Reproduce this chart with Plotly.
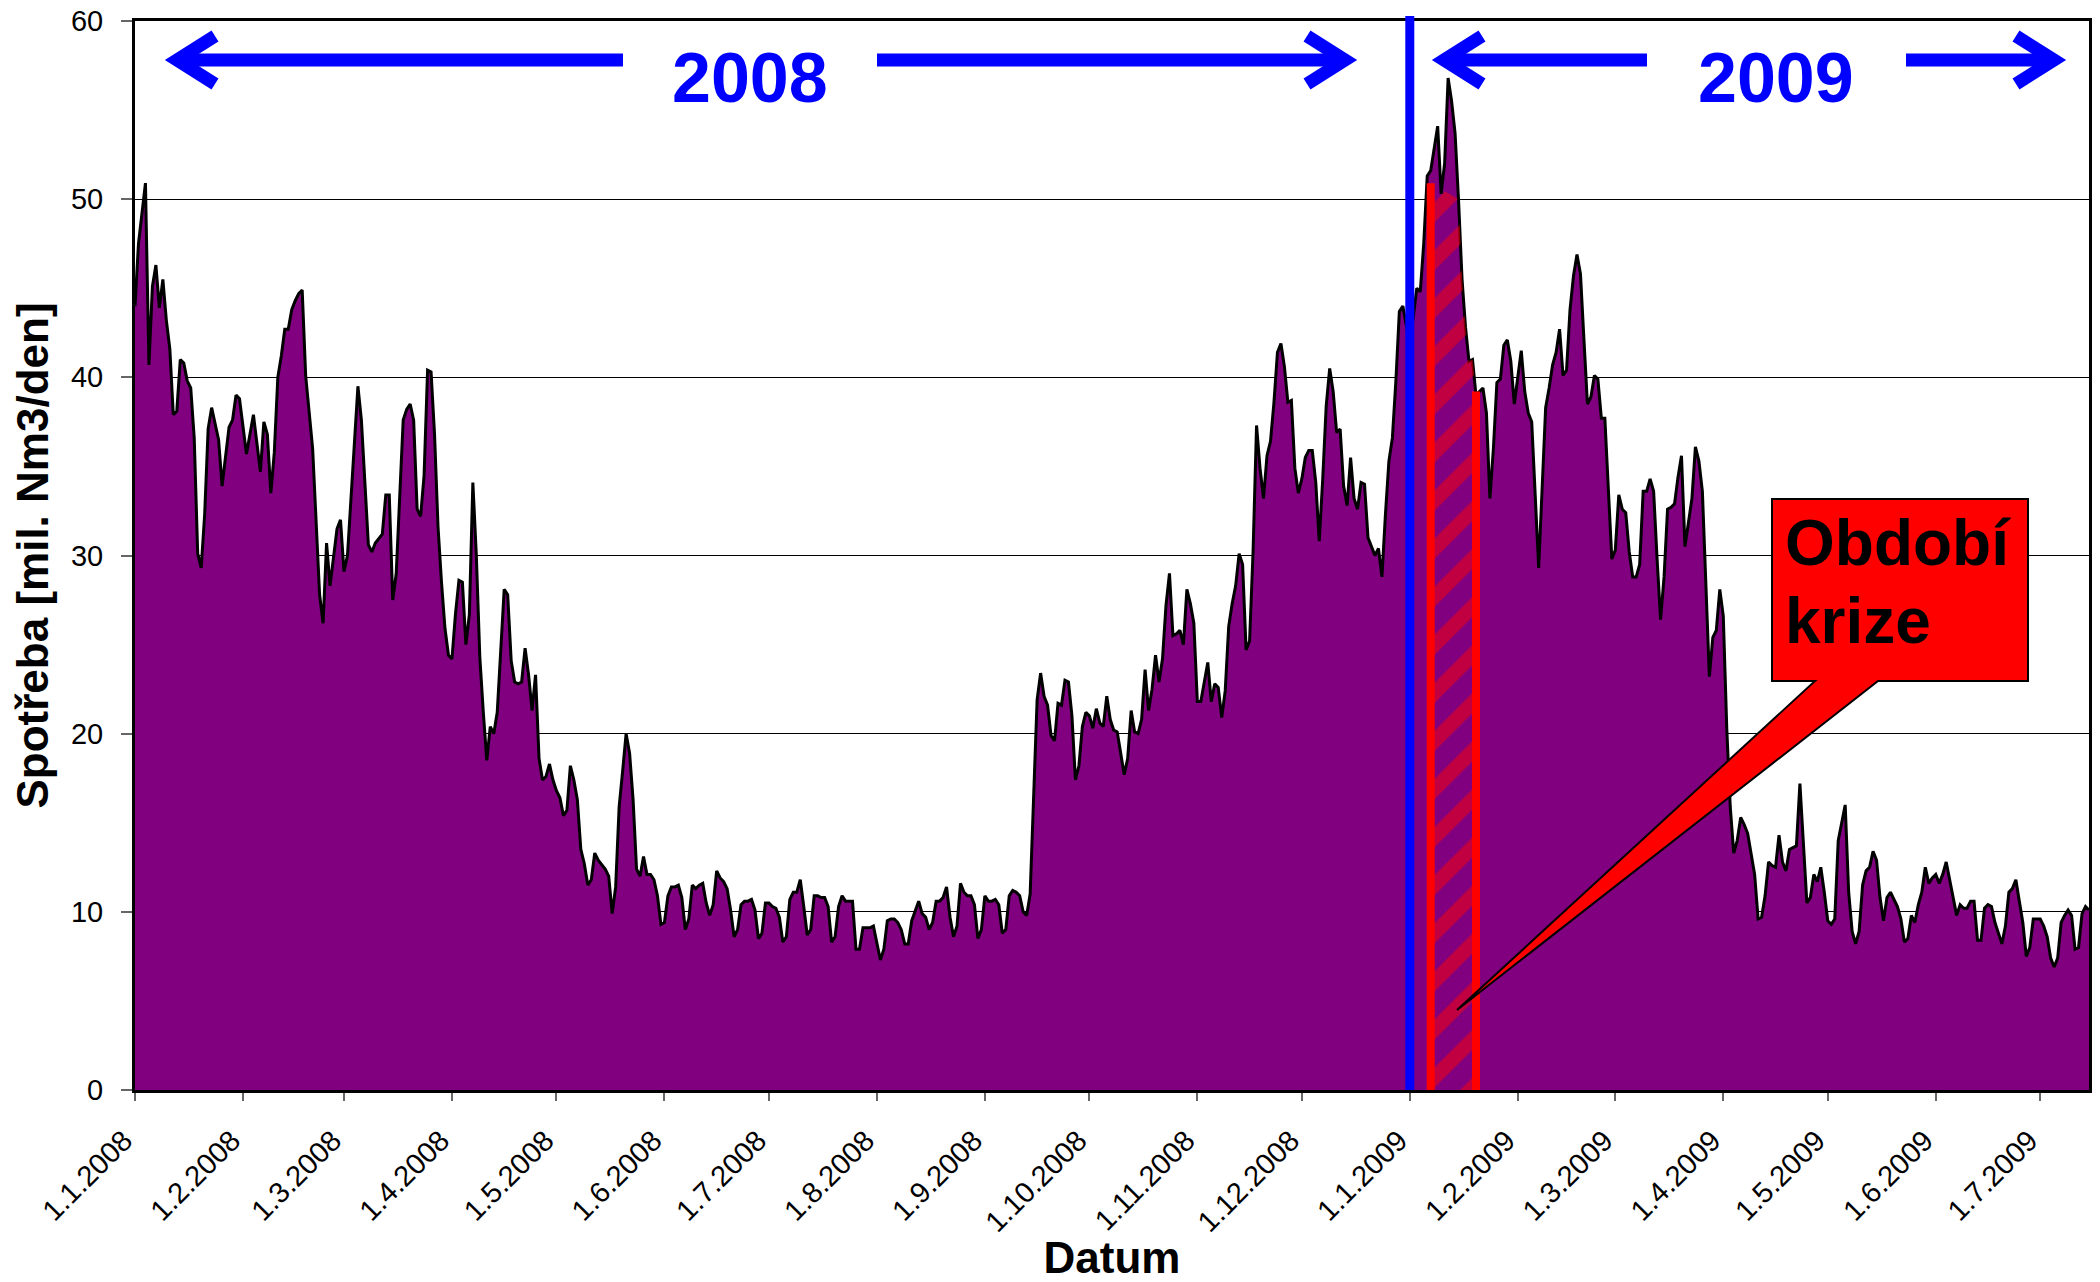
import pandas as pd
import plotly.graph_objects as go

# ---------------- data ----------------
START = "2008-01-01"          # day offsets below are counted from this date
X_RANGE = ["2008-01-01", "2009-07-15"]

DAYS_2008 = [
    0, 1, 3, 4, 5, 6, 7, 8, 9, 10,
    11, 12, 13, 14, 15, 16, 17, 18, 19, 20,
    21, 22, 24, 25, 27, 28, 29, 30, 32, 34,
    36, 37, 38, 39, 40, 41, 42, 43, 44, 45,
    46, 47, 48, 49, 51, 53, 54, 55, 56, 58,
    59, 60, 61, 62, 63, 64, 65, 66, 67, 68,
    69, 71, 72, 73, 74, 75, 76, 77, 78, 79,
    80, 81, 82, 83, 84, 85, 86, 87, 88, 89,
    90, 91, 92, 93, 94, 95, 96, 97, 98, 99,
    100, 101, 102, 103, 104, 105, 106, 107, 108, 109,
    110, 111, 112, 113, 114, 115, 116, 117, 118, 119,
    120, 121, 122, 123, 124, 125, 126, 127, 128, 129,
    130, 131, 132, 133, 135, 136, 137, 138, 139, 140,
    141, 142, 143, 144, 145, 146, 147, 148, 149, 150,
    151, 152, 153, 154, 155, 156, 157, 158, 159, 160,
    161, 162, 163, 164, 165, 166, 167, 168, 169, 170,
    171, 172, 173, 174, 175, 176, 177, 178, 179, 180,
    181, 182, 183, 184, 185, 186, 187, 188, 189, 190,
    191, 192, 193, 194, 195, 196, 197, 198, 199, 200,
    201, 202, 203, 204, 205, 206, 207, 208, 209, 210,
    211, 212, 213, 214, 215, 216, 217, 218, 219, 220,
    221, 222, 223, 224, 225, 226, 227, 228, 229, 230,
    231, 232, 233, 234, 235, 236, 237, 238, 239, 240,
    241, 242, 243, 244, 245, 246, 247, 248, 249, 250,
    251, 252, 253, 254, 255, 256, 257, 259, 260, 261,
    262, 263, 264, 265, 266, 267, 268, 269, 270, 271,
    272, 273, 274, 275, 276, 277, 278, 279, 280, 281,
    282, 283, 284, 285, 286, 287, 288, 289, 290, 291,
    292, 293, 294, 295, 296, 297, 298, 299, 300, 301,
    302, 303, 304, 305, 306, 307, 308, 309, 310, 311,
    312, 313, 314, 315, 316, 317, 318, 319, 320, 321,
    322, 323, 324, 325, 326, 327, 328, 329, 330, 331,
    332, 333, 334, 335, 336, 337, 338, 339, 340, 341,
    342, 343, 344, 345, 346, 347, 348, 349, 350, 351,
    352, 353, 354, 355, 356, 357, 358, 359, 360, 361,
    362, 363, 364,
]
VALUES_2008 = [
    44.0, 47.5, 50.9, 40.7, 45.1, 46.3, 43.9, 45.5, 43.2, 41.6,
    37.9, 38.1, 41.0, 40.8, 39.8, 39.4, 36.6, 30.1, 29.3, 32.3,
    37.1, 38.3, 36.5, 33.9, 37.2, 37.6, 39.0, 38.8, 35.7, 37.9,
    34.7, 37.5, 36.8, 33.5, 35.8, 40.0, 41.2, 42.7, 42.7, 43.8,
    44.3, 44.7, 44.9, 40.1, 36.0, 27.8, 26.2, 30.7, 28.3, 31.5,
    32.0, 29.1, 30.0, 33.0, 35.9, 39.5, 37.6, 34.1, 30.6, 30.2,
    30.7, 31.2, 33.4, 33.4, 27.5, 29.0, 33.0, 37.6, 38.2, 38.5,
    37.6, 32.6, 32.2, 34.5, 40.4, 40.3, 36.8, 31.6, 28.5, 25.9,
    24.4, 24.2, 26.7, 28.6, 28.5, 25.0, 26.7, 34.1, 30.0, 24.3,
    21.2, 18.5, 20.4, 20.0, 21.2, 25.0, 28.1, 27.8, 24.1, 22.9,
    22.8, 22.9, 24.8, 23.3, 21.3, 23.3, 18.6, 17.4, 17.6, 18.3,
    17.4, 16.8, 16.4, 15.4, 15.7, 18.2, 17.4, 16.3, 13.5, 12.7,
    11.5, 11.8, 13.3, 12.9, 12.4, 12.0, 9.9, 11.4, 15.9, 17.9,
    20.0, 18.9, 16.3, 12.4, 12.0, 13.1, 12.1, 12.1, 11.8, 10.9,
    9.3, 9.4, 10.9, 11.4, 11.4, 11.5, 10.8, 9.0, 9.6, 11.5,
    11.3, 11.5, 11.6, 10.5, 9.8, 10.4, 12.3, 11.9, 11.7, 11.3,
    10.1, 8.6, 9.0, 10.4, 10.6, 10.6, 10.7, 10.1, 8.5, 8.8,
    10.5, 10.5, 10.3, 10.2, 9.7, 8.3, 8.6, 10.7, 11.1, 11.1,
    11.8, 10.3, 8.7, 9.0, 10.9, 10.9, 10.8, 10.8, 10.3, 8.3,
    8.6, 10.3, 10.9, 10.6, 10.6, 10.6, 7.9, 7.9, 9.1, 9.1,
    9.1, 9.2, 8.2, 7.3, 7.9, 9.5, 9.6, 9.6, 9.4, 9.0,
    8.2, 8.2, 9.5, 10.0, 10.6, 9.9, 9.7, 9.0, 9.4, 10.6,
    10.6, 10.8, 11.4, 9.7, 8.6, 9.2, 11.6, 11.1, 10.9, 10.9,
    10.4, 8.5, 9.0, 10.9, 10.6, 10.6, 10.7, 10.4, 8.8, 9.0,
    10.9, 11.2, 11.1, 10.9, 10.0, 9.8, 11.0, 21.9, 23.4, 22.1,
    21.6, 19.9, 19.6, 21.7, 21.6, 23.0, 22.9, 21.0, 17.4, 18.2,
    20.4, 21.2, 21.0, 20.3, 21.4, 20.6, 20.4, 22.1, 20.8, 20.2,
    20.1, 18.9, 17.7, 18.6, 21.3, 20.1, 20.0, 20.8, 23.6, 21.3,
    22.5, 24.4, 22.9, 24.2, 27.2, 29.0, 25.5, 25.6, 25.8, 25.0,
    28.1, 27.3, 26.2, 21.8, 21.8, 22.9, 24.0, 21.8, 22.8, 22.6,
    20.9, 22.4, 26.0, 27.3, 28.3, 30.1, 29.5, 24.7, 25.2, 30.2,
    37.3, 34.9, 33.2, 35.6, 36.4, 38.6, 41.4, 41.9, 40.6, 38.6,
    38.7, 34.9, 33.5, 34.3, 35.5, 35.9, 35.9, 34.1, 30.8, 34.3,
    38.4, 40.5, 39.2, 36.9, 37.1, 33.9, 32.8, 35.5, 33.2, 32.6,
    34.1, 34.0, 31.0, 30.5, 30.0, 30.4, 28.8, 32.3, 35.3, 36.6,
    39.8, 43.7, 44.0,
]

DAYS_2009 = [
    366, 368, 369, 370, 371, 372, 374, 375, 376, 377,
    378, 379, 380, 381, 382, 383, 384, 385, 387, 388,
    389, 390, 391, 392, 393, 394, 395, 396, 398, 399,
    400, 401, 403, 405, 406, 407, 408, 409, 410, 411,
    412, 413, 414, 415, 416, 417, 418, 419, 420, 421,
    422, 423, 424, 425, 426, 427, 428, 429, 430, 431,
    432, 433, 434, 435, 436, 437, 438, 439, 440, 441,
    442, 443, 444, 445, 446, 447, 448, 449, 450, 451,
    452, 453, 454, 455, 456, 457, 458, 459, 460, 461,
    462, 463, 465, 466, 467, 468, 469, 470, 471, 472,
    473, 474, 475, 476, 477, 478, 479, 480, 481, 482,
    483, 484, 485, 486, 487, 488, 489, 491, 492, 493,
    494, 495, 496, 497, 498, 499, 500, 501, 502, 503,
    504, 506, 507, 508, 509, 510, 511, 512, 513, 514,
    515, 516, 517, 518, 519, 520, 521, 522, 523, 524,
    525, 526, 527, 528, 529, 530, 531, 532, 533, 534,
    536, 537, 538, 539, 540, 541, 542, 543, 544, 545,
    546, 547, 548, 549, 550, 551, 552, 553, 554, 555,
    556, 557, 558, 559, 560, 561,
]
VALUES_2009 = [
    41.8, 45.0, 44.8, 47.5, 51.3, 51.6, 54.1, 50.3, 52.0, 56.8,
    55.5, 53.7, 49.9, 45.5, 42.8, 40.9, 41.0, 39.0, 39.4, 38.0,
    33.2, 36.0, 39.7, 39.9, 41.8, 42.1, 40.9, 38.5, 41.5, 39.2,
    38.0, 37.5, 29.3, 38.3, 39.4, 40.7, 41.4, 42.7, 40.1, 40.4,
    43.8, 45.7, 46.9, 45.8, 42.1, 38.5, 38.9, 40.1, 39.9, 37.7,
    37.7, 33.6, 29.8, 30.3, 33.4, 32.6, 32.4, 30.2, 28.8, 28.8,
    29.5, 33.6, 33.6, 34.3, 33.6, 29.8, 26.4, 28.8, 32.6, 32.7,
    32.9, 34.4, 35.6, 30.5, 31.9, 33.2, 36.1, 35.3, 33.6, 28.8,
    23.2, 25.4, 25.8, 28.1, 26.6, 20.3, 15.9, 13.3, 14.0, 15.3,
    14.9, 14.4, 12.1, 9.6, 9.7, 10.9, 12.8, 12.6, 12.5, 14.3,
    12.8, 12.3, 13.5, 13.6, 13.7, 17.2, 13.5, 10.5, 10.8, 12.1,
    11.7, 12.5, 11.1, 9.5, 9.3, 9.6, 14.0, 16.0, 11.1, 8.9,
    8.2, 8.9, 11.5, 12.3, 12.5, 13.4, 12.9, 10.8, 9.5, 10.8,
    11.1, 10.3, 9.6, 8.3, 8.5, 9.8, 9.4, 10.4, 11.1, 12.5,
    11.6, 11.9, 12.1, 11.6, 12.1, 12.8, 11.8, 10.8, 9.8, 10.4,
    10.2, 10.2, 10.6, 10.6, 8.4, 8.4, 10.2, 10.4, 10.3, 9.4,
    8.2, 9.2, 11.1, 11.3, 11.8, 10.6, 9.4, 7.5, 8.0, 9.6,
    9.6, 9.6, 9.2, 8.6, 7.4, 6.9, 7.4, 9.4, 9.8, 10.1,
    9.8, 7.9, 8.0, 9.9, 10.3, 10.1,
]

# crisis period (hatched band): top edge of the hatched area
CRISIS_DAYS = [372, 380, 381, 382, 383, 384, 385]
CRISIS_VALUES = [50.9, 50.0, 45.5, 42.8, 40.9, 41.0, 39.2]

TICK_DATES = [
    "2008-01-01", "2008-02-01", "2008-03-01", "2008-04-01", "2008-05-01",
    "2008-06-01", "2008-07-01", "2008-08-01", "2008-09-01", "2008-10-01",
    "2008-11-01", "2008-12-01", "2009-01-01", "2009-02-01", "2009-03-01",
    "2009-04-01", "2009-05-01", "2009-06-01", "2009-07-01",
]
Y_TICKS = [0, 10, 20, 30, 40, 50, 60]
YEAR_BOUNDARY = "2009-01-01"
YEAR_LABELS = ["2008", "2009"]
CALLOUT_LINES = ["Období", "krize"]

assert len(DAYS_2008) == len(VALUES_2008)
assert len(DAYS_2009) == len(VALUES_2009)
assert len(CRISIS_DAYS) == len(CRISIS_VALUES)

base = pd.Timestamp(START)
to_date = lambda d: base + pd.Timedelta(days=d)
dates = [to_date(d) for d in DAYS_2008 + DAYS_2009]
values = VALUES_2008 + VALUES_2009
crisis_dates = [to_date(d) for d in CRISIS_DAYS]

# ---------------- geometry / style ----------------
W, H = 2100, 1282
ML, MR, MT, MB = 135, 11, 21, 192
PW, PH = W - ML - MR, H - MT - MB
FONT = "Arial, 'Liberation Sans', sans-serif"
BLUE = "#0000FF"
RED = "#FF0000"
PURPLE = "#800080"


def px(x):
    return (x - ML) / PW


def py(y):
    return (H - MB - y) / PH


fig = go.Figure()

fig.add_trace(go.Scatter(
    x=dates, y=values, mode="lines", fill="tozeroy",
    fillcolor=PURPLE, line=dict(color="black", width=3),
    hoverinfo="skip", showlegend=False,
))

# hatched crisis band
fig.add_trace(go.Scatter(
    x=[crisis_dates[0]] + crisis_dates + [crisis_dates[-1]],
    y=[0] + CRISIS_VALUES + [0],
    mode="lines", fill="toself", line=dict(width=0, color="rgba(0,0,0,0)"),
    fillcolor="rgba(0,0,0,0)",
    fillpattern=dict(shape="/", fgcolor=RED, bgcolor="rgba(0,0,0,0)",
                     size=34, solidity=0.42),
    hoverinfo="skip", showlegend=False,
))
for cd, cv in [(crisis_dates[0], CRISIS_VALUES[0]), (crisis_dates[-1], CRISIS_VALUES[-1])]:
    fig.add_trace(go.Scatter(
        x=[cd, cd], y=[0, cv], mode="lines",
        line=dict(color=RED, width=8), hoverinfo="skip", showlegend=False,
    ))

shapes = []
# year boundary
shapes.append(dict(type="line", xref="x", yref="paper",
                   x0=YEAR_BOUNDARY, x1=YEAR_BOUNDARY, y0=0, y1=py(16),
                   line=dict(color=BLUE, width=9)))

# year arrows: (tail_px, tip_px)
ARROWS_PX = [(623, 177), (877, 1345), (1647, 1444), (1906, 2054)]
ARROW_Y = 60
for tail, tip in ARROWS_PX:
    d = 1 if tip > tail else -1
    shapes.append(dict(type="line", xref="paper", yref="paper",
                       x0=px(tail), x1=px(tip), y0=py(ARROW_Y), y1=py(ARROW_Y),
                       line=dict(color=BLUE, width=13)))
    ax = tip - d * 38
    path = "M {:.5f},{:.5f} L {:.5f},{:.5f} L {:.5f},{:.5f}".format(
        px(ax), py(ARROW_Y - 24), px(tip), py(ARROW_Y), px(ax), py(ARROW_Y + 24))
    shapes.append(dict(type="path", xref="paper", yref="paper", path=path,
                       line=dict(color=BLUE, width=13)))

# callout box with pointer
pts = [(1772, 499), (2028, 499), (2028, 681), (1878, 681), (1457, 1010),
       (1815, 681), (1772, 681)]
path = "M " + " L ".join("{:.5f},{:.5f}".format(px(x), py(y)) for x, y in pts) + " Z"
shapes.append(dict(type="path", xref="paper", yref="paper", path=path,
                   fillcolor=RED, line=dict(color="black", width=2)))

annotations = []
for label, cx in zip(YEAR_LABELS, [750, 1776]):
    annotations.append(dict(text="<b>%s</b>" % label, xref="paper", yref="paper",
                            x=px(cx), y=py(78), xanchor="center", yanchor="middle",
                            showarrow=False,
                            font=dict(family=FONT, size=70, color=BLUE)))
for line, cy in zip(CALLOUT_LINES, [543, 621]):
    annotations.append(dict(text="<b>%s</b>" % line, xref="paper", yref="paper",
                            x=px(1783), y=py(cy), xanchor="left", yanchor="middle",
                            showarrow=False,
                            font=dict(family=FONT, size=64, color="black")))

fig.update_layout(
    width=W, height=H,
    margin=dict(l=ML, r=MR, t=MT, b=MB, pad=0),
    paper_bgcolor="white", plot_bgcolor="white",
    showlegend=False,
    shapes=shapes, annotations=annotations,
    font=dict(family=FONT, color="black"),
    xaxis=dict(
        type="date", range=X_RANGE, tickvals=TICK_DATES,
        tickformat="%-d.%-m.%Y", tickangle=-45,
        ticks="outside", ticklen=8, tickwidth=1.5, tickcolor="#666666",
        showgrid=False, zeroline=False,
        showline=True, linecolor="black", linewidth=3, mirror=True,
        tickfont=dict(family=FONT, size=29, color="black"),
        ticklabelstandoff=11, ticklabelshift=-11,
        title=dict(text="<b>Datum</b>", font=dict(family=FONT, size=44, color="black"),
                   standoff=22),
        automargin=False,
    ),
    yaxis=dict(
        range=[0, 60], tickvals=Y_TICKS,
        ticks="outside", ticklen=11, tickwidth=1.5, tickcolor="#666666",
        showgrid=True, gridcolor="black", gridwidth=1,
        zeroline=False,
        showline=True, linecolor="black", linewidth=3, mirror=True,
        tickfont=dict(family=FONT, size=29, color="black"),
        ticklabelstandoff=12,
        title=dict(text="<b>Spotřeba [mil. Nm3/den]</b>",
                   font=dict(family=FONT, size=44, color="black"), standoff=9),
        automargin=False,
    ),
)

fig.write_html("out.html", config={"displayModeBar": False},
               post_script="document.body.style.margin='0px';")
